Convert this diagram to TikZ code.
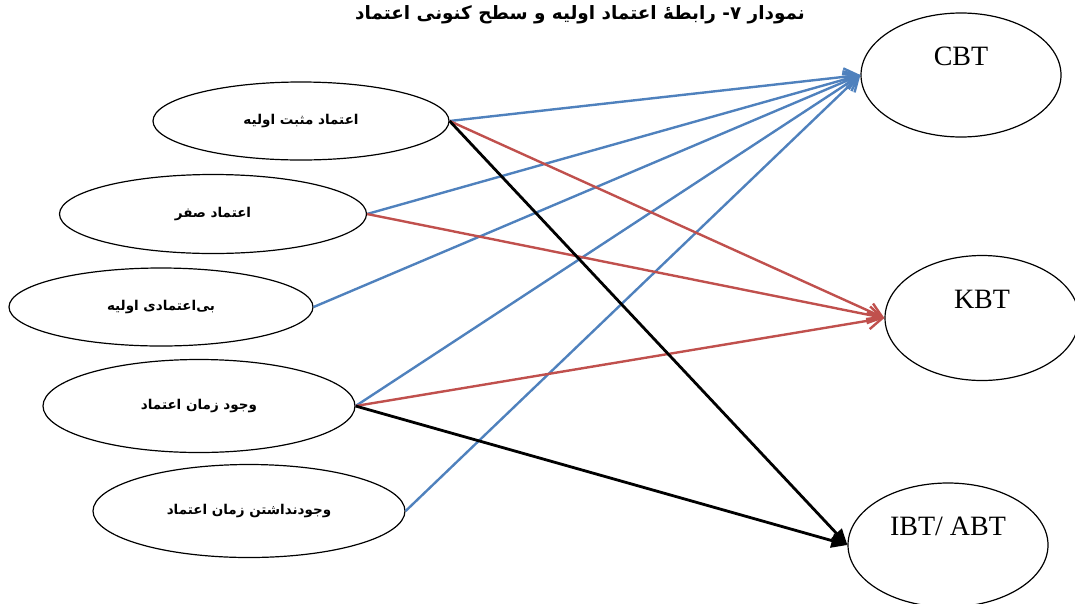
\documentclass[tikz,border=0pt]{standalone}
\usepackage{fontspec}
\setmainfont{Liberation Serif}
\newfontfamily\arabicfont[Script=Arabic]{DejaVu Sans}
\TeXXeTstate=1
\usetikzlibrary{shapes.geometric,arrows.meta}
\definecolor{linkblue}{RGB}{79,129,189}
\definecolor{linkred}{RGB}{192,80,77}

\begin{document}
\begin{tikzpicture}[
    x=1pt, y=-1pt,
    every node/.style = {
      inner sep=0pt,
      align=center
    },
    factor/.style = {
      shape=ellipse,
      draw=black,
      line width=1.2pt,
      font=\arabicfont\bfseries\fontsize{13.5}{16}\selectfont
    },
    level/.style = {
      shape=ellipse,
      draw=black,
      line width=1.2pt,
      minimum width=200pt,
      minimum height=124pt,
      text height=20pt,
      text depth=39pt,
      font=\fontsize{28}{32}\selectfont
    },
    bluelink/.style = {
      draw=linkblue, line width=2.4pt,
      -{Straight Barb[length=14pt,width=17pt]}
    },
    redlink/.style = {
      draw=linkred, line width=2.4pt,
      -{Straight Barb[length=14pt,width=17pt]}
    },
    blacklink/.style = {
      draw=black, line width=2.8pt,
      -{Triangle[length=16pt,width=14pt]}
    }
  ]
    \useasboundingbox (0,0) rectangle (1075,603);

    % Title
    \node (title) at (580,15)
      {\arabicfont\bfseries\fontsize{18.4}{22}\selectfont\beginR نمودار ۷- رابطهٔ اعتماد اولیه و سطح کنونی اعتماد\endR};

    % Initial trust factors
    \node[factor, minimum width=296pt, minimum height=78pt] (mosbat) at (301,121)
      {\beginR اعتماد مثبت اولیه\endR};
    \node[factor, minimum width=307pt, minimum height=79pt] (sefr) at (213,214)
      {\beginR اعتماد صفر\endR};
    \node[factor, minimum width=304pt, minimum height=78pt] (biet) at (161,307)
      {\beginR بی‌اعتمادی اولیه\endR};
    \node[factor, minimum width=312pt, minimum height=93pt] (zaman) at (199,406)
      {\beginR وجود زمان اعتماد\endR};
    \node[factor, minimum width=312pt, minimum height=93pt] (bizaman) at (249,511)
      {\beginR وجودنداشتن زمان اعتماد\endR};

    % Current trust levels
    \node[level] (cbt) at (961,75) {CBT};
    \node[level, minimum width=194pt, minimum height=125pt] (kbt) at (982,318) {KBT};
    \node[level] (ibt) at (948,545) {IBT/ ABT};

    % Links to CBT
    \draw[bluelink] (mosbat.east) -- (cbt.west);
    \draw[bluelink] (sefr.east) -- (cbt.west);
    \draw[bluelink] (biet.east) -- (cbt.west);
    \draw[bluelink] (zaman.east) -- (cbt.west);
    \draw[bluelink] (bizaman.east) -- (cbt.west);

    % Links to KBT
    \draw[redlink] (mosbat.east) -- (kbt.west);
    \draw[redlink] (sefr.east) -- (kbt.west);
    \draw[redlink] (zaman.east) -- (kbt.west);

    % Links to IBT/ ABT
    \draw[blacklink] (mosbat.east) -- (ibt.west);
    \draw[blacklink] (zaman.east) -- (ibt.west);
  \end{tikzpicture}
\end{document}
